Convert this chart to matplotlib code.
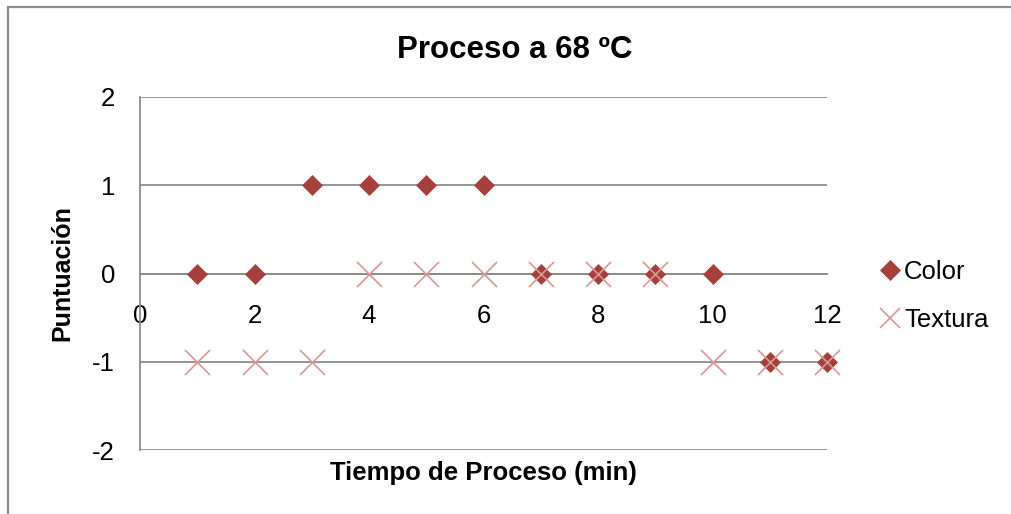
import matplotlib.pyplot as plt
from matplotlib.patches import Rectangle

# --- data ---
tiempo = [1, 2, 3, 4, 5, 6, 7, 8, 9, 10, 11, 12]
color = [0, 0, 1, 1, 1, 1, 0, 0, 0, 0, -1, -1]
textura = [-1, -1, -1, 0, 0, 0, 0, 0, 0, -1, -1, -1]
x_ticks = [0, 2, 4, 6, 8, 10, 12]
y_ticks = [-2, -1, 0, 1, 2]

plt.rcParams['font.family'] = ['Liberation Sans', 'DejaVu Sans']
plt.rcParams['axes.unicode_minus'] = False

grey = '#8c8c8c'
W, H = 1011, 514
fig = plt.figure(figsize=(10.11, 5.14), dpi=100)
ax = fig.add_axes([140 / W, 1 - 450 / H, 687 / W, 353 / H])

# outer chart frame (cropped at right/bottom)
fig.patches.append(Rectangle((8 / W, -0.1), 1.2, 1 - 7 / H + 0.1,
                             transform=fig.transFigure, fill=False,
                             edgecolor=grey, linewidth=1.6))

for y in y_ticks:
    ax.axhline(y, color=grey, linewidth=1.3, zorder=1)

ax.plot(tiempo, color, linestyle='none', marker='D', markersize=10.5,
        color='#a5403d', markeredgewidth=0.5, label='Color', zorder=3, clip_on=False)
ax.plot(tiempo, textura, linestyle='none', marker='x', markersize=18,
        color='#d99694', markeredgewidth=1.2, label='Textura', zorder=4, clip_on=False)

ax.set_xlim(0, 12)
ax.set_ylim(-2, 2)
ax.set_xticks(x_ticks)
ax.set_yticks(y_ticks)

for s in ['top', 'right']:
    ax.spines[s].set_visible(False)
ax.spines['bottom'].set_position(('data', 0))
ax.spines['bottom'].set_color(grey)
ax.spines['bottom'].set_linewidth(1.3)
ax.spines['left'].set_color(grey)
ax.spines['left'].set_linewidth(1.3)
ax.tick_params(axis='x', length=0, pad=22, labelsize=18.5)
ax.tick_params(axis='y', length=0, pad=18, labelsize=18.5)

fig.text(515 / W, 1 - 50 / H, 'Proceso a 68 ºC', fontsize=22.5, fontweight='bold',
         ha='center', va='center')
ax.set_xlabel('Tiempo de Proceso (min)', fontsize=18.5, fontweight='bold')
ax.xaxis.set_label_coords(0.5, -0.03)
ax.set_ylabel('Puntuación', fontsize=18, fontweight='bold')
ax.yaxis.set_label_coords(-0.096, 0.5)

leg = ax.legend(loc='center left', bbox_to_anchor=(881 / W, 1 - 296 / H),
                bbox_transform=fig.transFigure, frameon=False, borderpad=0,
                borderaxespad=0, fontsize=18.5, handlelength=0.7,
                handletextpad=0.2, labelspacing=0.9)
leg.legend_handles[0].set_markersize(10)
leg.legend_handles[1].set_markersize(14)

fig.savefig('out.png', dpi=100)
